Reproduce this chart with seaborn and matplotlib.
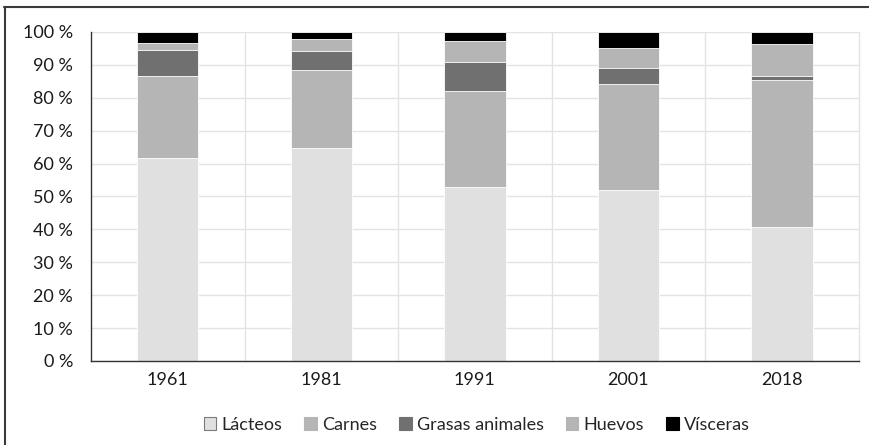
import matplotlib
matplotlib.use("Agg")
import matplotlib.pyplot as plt
import seaborn as sns
import pandas as pd
import numpy as np
from matplotlib.patches import Patch
from matplotlib.lines import Line2D
from matplotlib.ticker import MultipleLocator, FixedLocator

# datos (% del total)
anios = ["1961", "1981", "1991", "2001", "2018"]
lacteos = [61.7, 64.7, 53.0, 52.0, 40.8]
carnes = [24.9, 23.7, 29.1, 32.2, 44.6]
grasas = [8.0, 5.8, 8.8, 4.9, 1.2]
huevos = [2.1, 3.8, 6.4, 5.9, 9.9]
visceras = [3.3, 2.0, 2.7, 5.0, 3.5]

series = ["Lácteos", "Carnes", "Grasas animales", "Huevos", "Vísceras"]
colores = ["#e0e0e0", "#b5b5b5", "#707070", "#b5b5b5", "#000000"]

df = pd.DataFrame({
    "anio": anios,
    "Lácteos": lacteos,
    "Carnes": carnes,
    "Grasas animales": grasas,
    "Huevos": huevos,
    "Vísceras": visceras,
})

# acumulados para apilar
df_acum = df.copy()
df_acum[series] = df[series].cumsum(axis=1)

sns.set_style("white")
plt.rcParams["font.family"] = ["Lato", "DejaVu Sans"]
plt.rcParams["font.size"] = 13

fig = plt.figure(figsize=(8.7, 4.45), dpi=100)
ax = fig.add_axes([0.1046, 0.1888, 0.8824, 0.7393])

# de arriba hacia abajo, cada barra tapa la anterior
for serie, color in reversed(list(zip(series, colores))):
    sns.barplot(
        data=df_acum,
        x="anio",
        y=serie,
        color=color,
        saturation=1,
        width=0.4,
        edgecolor="white",
        linewidth=0.6,
        errorbar=None,
        ax=ax)

ax.set_xlim(-0.5, 4.5)
ax.set_ylim(0, 100)
ax.yaxis.set_major_locator(MultipleLocator(10))
ax.set_yticklabels([f"{int(v)} %" for v in ax.get_yticks()])
ax.xaxis.set_minor_locator(FixedLocator([0.5, 1.5, 2.5, 3.5]))

ax.set_axisbelow(True)
ax.grid(axis="y", which="major", color="#e3e3e3", linewidth=1)
ax.grid(axis="x", which="minor", color="#e3e3e3", linewidth=1)
ax.grid(axis="x", which="major", visible=False)

ax.set_xlabel("")
ax.set_ylabel("")
ax.tick_params(axis="both", which="both", length=0, colors="#1a1a1a")
ax.tick_params(axis="y", pad=13)
ax.tick_params(axis="x", pad=8)

for lado in ["left", "bottom"]:
    ax.spines[lado].set_color("#333333")
    ax.spines[lado].set_linewidth(1)
ax.spines["top"].set_visible(False)
ax.spines["right"].set_color("#e3e3e3")
ax.spines["right"].set_linewidth(1)

# leyenda
handles = []
for serie, color in zip(series, colores):
    borde = "#7a7a7a" if serie == "Lácteos" else color
    handles.append(Patch(facecolor=color, edgecolor=borde, linewidth=0.8, label=serie))

fig.legend(
    handles=handles,
    loc="center",
    bbox_to_anchor=(0.548, 0.045),
    ncol=5,
    frameon=False,
    handlelength=0.7,
    handleheight=0.7,
    handletextpad=0.3,
    columnspacing=1.2,
    fontsize=13)

# marco de la figura (solo arriba e izquierda)
fig.add_artist(Line2D([0.005, 1.0], [0.984, 0.984], color="#3a3a3a", linewidth=1.5, transform=fig.transFigure))
fig.add_artist(Line2D([0.006, 0.006], [0.0, 0.984], color="#3a3a3a", linewidth=1.5, transform=fig.transFigure))

plt.savefig("out.png", dpi=100)
plt.close()
